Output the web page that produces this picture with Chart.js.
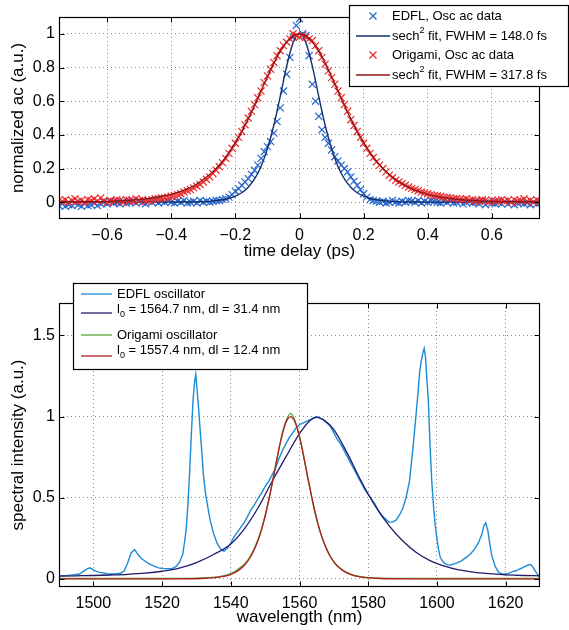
<!DOCTYPE html>
<html>
<head>
<meta charset="utf-8">
<title>EDFL vs Origami oscillator</title>
<script src="https://cdn.jsdelivr.net/npm/chart.js@4.4.1/dist/chart.umd.min.js"></script>
<style>
    body { margin: 0; background: #fff; }
    #wrap { position: relative; width: 569px; height: 630px; }
    canvas { position: absolute; left: 0; }
    #acChart { top: 0; }
    #specChart { top: 270px; }
</style>
</head>
<body>
<div id="wrap">
    <canvas id="acChart" width="569" height="270"></canvas>
    <canvas id="specChart" width="569" height="360"></canvas>
</div>
<script>
/* Autocorrelation data START */
var delay = [-0.75,-0.74,-0.73,-0.72,-0.71,-0.70,-0.69,-0.68,-0.67,-0.66,
    -0.65,-0.64,-0.63,-0.62,-0.61,-0.60,-0.59,-0.58,-0.57,-0.56,
    -0.55,-0.54,-0.53,-0.52,-0.51,-0.50,-0.49,-0.48,-0.47,-0.46,
    -0.45,-0.44,-0.43,-0.42,-0.41,-0.40,-0.39,-0.38,-0.37,-0.36,
    -0.35,-0.34,-0.33,-0.32,-0.31,-0.30,-0.29,-0.28,-0.27,-0.26,
    -0.25,-0.24,-0.23,-0.22,-0.21,-0.20,-0.19,-0.18,-0.17,-0.16,
    -0.15,-0.14,-0.13,-0.12,-0.11,-0.10,-0.09,-0.08,-0.07,-0.06,
    -0.05,-0.04,-0.03,-0.02,-0.01,0,0.01,0.02,0.03,0.04,
    0.05,0.06,0.07,0.08,0.09,0.10,0.11,0.12,0.13,0.14,
    0.15,0.16,0.17,0.18,0.19,0.20,0.21,0.22,0.23,0.24,
    0.25,0.26,0.27,0.28,0.29,0.30,0.31,0.32,0.33,0.34,
    0.35,0.36,0.37,0.38,0.39,0.40,0.41,0.42,0.43,0.44,
    0.45,0.46,0.47,0.48,0.49,0.50,0.51,0.52,0.53,0.54,
    0.55,0.56,0.57,0.58,0.59,0.60,0.61,0.62,0.63,0.64,
    0.65,0.66,0.67,0.68,0.69,0.70,0.71,0.72,0.73,0.74,
    0.75];
var edflAc = [-0.02,-0.01,-0.025,-0.015,-0.02,-0.005,-0.015,-0.025,-0.01,-0.02,
    -0.015,-0.005,-0.02,-0.01,0.0,-0.01,0.005,-0.005,0.0,-0.01,
    0.005,-0.005,0.0,0.01,-0.005,0.005,0.0,-0.01,0.005,0.0,
    0.01,-0.005,0.005,0.0,0.01,0.0,-0.005,0.005,0.0,0.01,
    -0.005,0.0,0.005,-0.005,0.01,0.0,0.005,0.0,0.005,0.01,
    0.01,0.015,0.02,0.03,0.045,0.065,0.08,0.1,0.12,0.14,
    0.165,0.19,0.22,0.26,0.3,0.33,0.36,0.41,0.48,0.56,
    0.66,0.76,0.86,0.98,1.05,1.09,1.0,0.99,0.87,0.7,
    0.6,0.51,0.43,0.385,0.35,0.31,0.27,0.245,0.22,0.2,
    0.18,0.15,0.125,0.1,0.075,0.05,0.03,0.015,0.01,0.005,
    0.0,0.005,-0.005,0.0,0.01,0.0,-0.005,0.005,0.0,0.01,
    0.005,0.0,0.01,-0.005,0.005,0.0,0.01,0.005,0.0,-0.005,
    0.005,0.0,0.01,-0.005,0.0,0.005,-0.01,0.0,0.005,-0.005,
    0.0,-0.01,0.005,-0.015,0.0,-0.005,-0.01,0.0,-0.01,0.005,
    -0.01,0.0,-0.015,-0.005,0.0,-0.01,-0.005,-0.015,0.0,-0.01,
    -0.005];
var origamiAc = [0.01,0.005,0.015,0.0,0.01,0.02,0.005,0.01,0.0,0.015,
    0.01,0.02,0.005,0.025,0.01,0.0,0.01,0.005,0.015,0.01,
    0.0,0.015,0.01,0.005,0.02,0.01,0.015,0.005,0.01,0.015,
    0.02,0.02,0.025,0.025,0.03,0.035,0.04,0.045,0.05,0.06,
    0.068,0.075,0.085,0.095,0.105,0.12,0.135,0.15,0.17,0.19,
    0.21,0.235,0.26,0.29,0.32,0.35,0.385,0.42,0.46,0.5,
    0.54,0.58,0.62,0.66,0.71,0.75,0.79,0.83,0.87,0.9,
    0.93,0.95,0.97,1.0,0.99,0.98,0.99,0.98,0.97,0.96,
    0.93,0.9,0.86,0.82,0.78,0.74,0.7,0.66,0.62,0.58,
    0.54,0.49,0.455,0.42,0.385,0.35,0.32,0.29,0.265,0.24,
    0.22,0.2,0.18,0.16,0.145,0.13,0.12,0.11,0.1,0.09,
    0.082,0.075,0.068,0.06,0.055,0.05,0.045,0.04,0.038,0.035,
    0.03,0.028,0.025,0.02,0.022,0.018,0.015,0.02,0.01,0.015,
    0.01,0.005,0.015,0.01,0.0,0.012,0.005,0.01,0.015,0.005,
    0.01,0.0,0.015,0.005,0.01,0.02,0.005,0.01,0.0,0.015,
    0.005];
var fitDelay = [-0.75,-0.7,-0.65,-0.6,-0.55,-0.5,-0.45,-0.4,-0.36,-0.32,-0.28,-0.26,-0.24,
    -0.22,-0.2,-0.18,-0.16,-0.14,-0.12,-0.1,-0.08,-0.06,-0.04,-0.02,0,
    0.02,0.04,0.06,0.08,0.1,0.12,0.14,0.16,0.18,0.2,0.22,0.24,0.26,0.28,
    0.32,0.36,0.4,0.45,0.5,0.55,0.6,0.65,0.7,0.75];
var edflAcFit = [0,0,0,0,0,0,0,0,0.001,0.002,0.005,0.009,0.014,
    0.022,0.036,0.056,0.089,0.138,0.212,0.318,0.457,0.629,0.808,0.947,1,
    0.947,0.808,0.629,0.457,0.318,0.212,0.138,0.089,0.056,0.036,0.022,0.014,0.009,0.005,
    0.002,0.001,0,0,0,0,0,0,0,0];
var origamiAcFit = [0.001,0.002,0.003,0.005,0.009,0.015,0.027,0.046,0.071,0.108,0.164,0.2,0.243,
    0.294,0.353,0.42,0.495,0.576,0.66,0.745,0.826,0.897,0.952,0.988,1,
    0.988,0.952,0.897,0.826,0.745,0.66,0.576,0.495,0.42,0.353,0.294,0.243,0.2,0.164,
    0.108,0.071,0.046,0.027,0.015,0.009,0.005,0.003,0.002,0.001];
var delayTicks = [-0.6, -0.4, -0.2, 0, 0.2, 0.4, 0.6];
var acTicks = [0, 0.2, 0.4, 0.6, 0.8, 1];
/* Autocorrelation data END */

/* Spectrum data START */
var edflLambda = [1490,1492,1494,1496,1497,1498,1499,1500,1501,1502,
    1504,1506,1508,1509,1510,1511,1512,1513,1514,1515,
    1516,1517,1518,1519,1520,1521,1522,1523,1524,1525,
    1526,1526.5,1527,1527.5,1528,1528.5,1529,1529.5,1529.8,1530.2,
    1530.6,1531,1531.5,1532,1532.5,1533,1534,1535,1536,1537,
    1538,1539,1540,1541,1542,1543,1544,1545,1546,1547,
    1548,1549,1550,1551,1552,1553,1554,1555,1556,1557,
    1558,1559,1560,1561,1562,1563,1564,1565,1566,1567,
    1568,1569,1570,1571,1572,1573,1574,1575,1576,1577,
    1578,1579,1580,1581,1582,1583,1584,1585,1586,1587,
    1588,1589,1590,1591,1592,1593,1594,1594.5,1595,1595.5,
    1596,1596.3,1596.7,1597,1597.5,1598,1598.5,1599,1599.5,1600,
    1600.5,1601,1602,1603,1604,1605,1606,1607,1608,1609,
    1610,1611,1612,1613,1613.7,1614.2,1614.8,1615.5,1616,1617,
    1618,1619,1620,1621,1622,1623,1624,1625,1626,1627,
    1627.5,1628,1629,1630];
var edflSpectrum = [0.02,0.02,0.025,0.03,0.045,0.06,0.068,0.055,0.045,0.04,
    0.032,0.03,0.035,0.05,0.1,0.16,0.18,0.15,0.125,0.11,
    0.095,0.085,0.075,0.068,0.065,0.063,0.062,0.065,0.075,0.1,
    0.15,0.22,0.3,0.45,0.65,0.88,1.1,1.22,1.26,1.16,
    1.06,0.94,0.8,0.65,0.55,0.48,0.36,0.28,0.22,0.185,
    0.17,0.19,0.22,0.26,0.29,0.32,0.35,0.39,0.43,0.46,
    0.5,0.53,0.57,0.6,0.64,0.68,0.74,0.79,0.83,0.87,
    0.9,0.93,0.95,0.96,0.97,0.98,0.99,1.0,0.99,0.98,
    0.96,0.94,0.9,0.86,0.83,0.79,0.75,0.71,0.67,0.63,
    0.59,0.55,0.52,0.49,0.46,0.42,0.39,0.37,0.35,0.35,
    0.36,0.39,0.43,0.5,0.6,0.8,1.03,1.15,1.28,1.35,
    1.4,1.42,1.36,1.25,1.1,0.82,0.6,0.45,0.33,0.25,
    0.18,0.13,0.1,0.088,0.086,0.092,0.1,0.11,0.125,0.14,
    0.16,0.185,0.22,0.27,0.33,0.345,0.3,0.2,0.14,0.075,
    0.04,0.03,0.03,0.035,0.045,0.05,0.06,0.07,0.08,0.088,
    0.085,0.07,0.035,0.01];
var edflFitLambda = [1490,1495,1500,1505,1510,1515,1520,1525,1530,1535,
    1540,1544,1548,1552,1556,1560,1563,1565,1567,1570,
    1574,1578,1582,1586,1590,1594,1598,1602,1606,1610,
    1615,1620,1625,1630];
var edflSpectrumFit = [0.017,0.019,0.021,0.024,0.028,0.035,0.047,0.066,0.1,0.15,
    0.215,0.31,0.44,0.6,0.75,0.895,0.975,0.995,0.98,0.92,
    0.77,0.6,0.45,0.33,0.235,0.163,0.113,0.08,0.057,0.043,
    0.032,0.025,0.021,0.019];
var origamiLambda = [1490,1517.4,1527.4,1531.4,1534.4,1537.4,1539.4,1541.4,1543.4,1544.4,
    1545.4,1546.4,1547.4,1548.4,1549.4,1550.4,1551.4,1552.4,1553.4,1554.4,
    1555.4,1556.4,1557.4,1558.4,1559.4,1560.4,1561.4,1562.4,1563.4,1564.4,
    1565.4,1566.4,1567.4,1568.4,1569.4,1570.4,1571.4,1573.4,1575.4,1577.4,
    1580.4,1583.4,1587.4,1597.4,1630];
var origamiSpectrum = [0.002,0.002,0.003,0.005,0.009,0.017,0.028,0.048,0.08,0.1,
    0.13,0.168,0.215,0.27,0.34,0.425,0.52,0.625,0.735,0.84,
    0.93,0.99,1.02,0.99,0.925,0.84,0.735,0.625,0.52,0.42,
    0.335,0.265,0.208,0.16,0.124,0.095,0.073,0.043,0.025,0.015,
    0.007,0.004,0.003,0.002,0.002];
var origamiSpectrumFit = [0,0.0001,0.0008,0.0024,0.0057,0.0134,0.0237,0.0413,0.072,0.094,
    0.124,0.161,0.209,0.266,0.337,0.423,0.52,0.626,0.735,0.838,
    0.923,0.98,1,0.98,0.923,0.838,0.735,0.626,0.52,0.423,
    0.337,0.266,0.209,0.161,0.124,0.094,0.072,0.0413,0.0237,0.0134,
    0.0057,0.0024,0.0008,0.0001,0];
var lambdaTicks = [1500, 1520, 1540, 1560, 1580, 1600, 1620];
var intensityTicks = [0, 0.5, 1, 1.5];
/* Spectrum data END */

var FONT = '"Liberation Sans", Arial, Helvetica, sans-serif';
Chart.defaults.font.family = FONT;
Chart.defaults.color = '#000';

function toPoints(xs, ys) {
    return xs.map((x, i) => ({x: x, y: ys[i]}));
}

function fmt(v) {
    return v < 0 ? '\u2212' + Math.abs(v) : String(v);
}

function xAxis(min, max, ticks, title, height, titlePad) {
    return {
        type: 'linear', position: 'bottom', min: min, max: max,
        afterBuildTicks: s => { s.ticks = ticks.map(v => ({value: v})); },
        afterFit: s => { s.height = height; },
        grid: {color: '#8a8a8a', lineWidth: 1, drawTicks: false},
        border: {display: false, dash: [1, 3]},
        ticks: {callback: fmt, font: {size: 16}, padding: 7, autoSkip: false, maxRotation: 0},
        title: {display: true, text: title, font: {size: 17}, padding: {top: 0, bottom: titlePad}}
    };
}

function yAxis(min, max, ticks, title) {
    return {
        type: 'linear', min: min, max: max,
        afterBuildTicks: s => { s.ticks = ticks.map(v => ({value: v})); },
        afterFit: s => { s.width = 59; },
        grid: {color: '#8a8a8a', lineWidth: 1, drawTicks: false},
        border: {display: false, dash: [1, 3]},
        ticks: {callback: fmt, font: {size: 16}, padding: 4, autoSkip: false},
        title: {display: true, text: title, font: {size: 17}, padding: {top: 8, bottom: 0}}
    };
}

// black box round the axes with small inward ticks, like matlab
var matlabFrame = {
    id: 'matlabFrame',
    afterDatasetsDraw(chart) {
        const ctx = chart.ctx, a = chart.chartArea, sx = chart.scales.x, sy = chart.scales.y;
        const L = Math.round(a.left) + 0.5, R = Math.round(a.right) - 0.5;
        const T = Math.round(a.top) + 0.5, B = Math.round(a.bottom) - 0.5;
        ctx.save();
        ctx.strokeStyle = '#000';
        ctx.lineWidth = 1;
        ctx.beginPath();
        sx.ticks.forEach(t => {
            const p = Math.round(sx.getPixelForValue(t.value)) + 0.5;
            ctx.moveTo(p, B); ctx.lineTo(p, B - 5);
            ctx.moveTo(p, T); ctx.lineTo(p, T + 5);
        });
        sy.ticks.forEach(t => {
            const p = Math.round(sy.getPixelForValue(t.value)) + 0.5;
            ctx.moveTo(L, p); ctx.lineTo(L + 5, p);
            ctx.moveTo(R, p); ctx.lineTo(R - 5, p);
        });
        ctx.stroke();
        ctx.lineWidth = 1.2;
        ctx.strokeRect(L, T, R - L, B - T);
        ctx.restore();
    }
};

function drawRich(ctx, parts, x, y) {
    parts.forEach(p => {
        const small = p[1] !== 0;
        ctx.font = (small ? 9 : 13) + 'px ' + FONT;
        const dy = p[1] === -1 ? -5 : (p[1] === 1 ? 6 : 0);
        ctx.fillText(p[0], x, y + dy);
        x += ctx.measureText(p[0]).width;
    });
}

var boxLegend = {
    id: 'boxLegend',
    afterDraw(chart, args, opts) {
        const ctx = chart.ctx, b = opts.box;
        ctx.save();
        ctx.fillStyle = '#fff';
        ctx.fillRect(b.left, b.top, b.width, b.height);
        ctx.strokeStyle = '#000';
        ctx.lineWidth = 1.2;
        ctx.strokeRect(b.left + 0.5, b.top + 0.5, b.width, b.height);
        opts.items.forEach(it => {
            const ds = chart.data.datasets[it.dataset];
            ctx.strokeStyle = ds.borderColor;
            ctx.lineWidth = 1.3;
            ctx.beginPath();
            if (it.marker) {
                const cx = (opts.lineFrom + opts.lineTo) / 2, r = 3.5;
                ctx.moveTo(cx - r, it.sampleY - r); ctx.lineTo(cx + r, it.sampleY + r);
                ctx.moveTo(cx - r, it.sampleY + r); ctx.lineTo(cx + r, it.sampleY - r);
            } else {
                ctx.moveTo(opts.lineFrom, it.sampleY); ctx.lineTo(opts.lineTo, it.sampleY);
            }
            ctx.stroke();
            ctx.fillStyle = '#000';
            ctx.textBaseline = 'middle';
            ctx.textAlign = 'left';
            drawRich(ctx, it.text, opts.textX, it.textY);
        });
        ctx.restore();
    }
};

function init() {
    createAcChart();
    createSpectrumChart();
}

function createAcChart() {
    new Chart('acChart', {
        type: 'scatter',
        data: {
            datasets: [{
                label: 'EDFL, Osc ac data',
                data: toPoints(delay, edflAc),
                showLine: false, pointStyle: 'crossRot', pointRadius: 5,
                pointBorderWidth: 1.2, borderColor: '#2566cf', order: 4
            }, {
                label: 'EDFL sech2 fit',
                data: toPoints(fitDelay, edflAcFit),
                showLine: true, pointRadius: 0, borderWidth: 1.4,
                borderColor: '#12306a', cubicInterpolationMode: 'monotone', order: 3
            }, {
                label: 'Origami, Osc ac data',
                data: toPoints(delay, origamiAc),
                showLine: false, pointStyle: 'crossRot', pointRadius: 5,
                pointBorderWidth: 1.2, borderColor: '#ec2a2c', order: 2
            }, {
                label: 'Origami sech2 fit',
                data: toPoints(fitDelay, origamiAcFit),
                showLine: true, pointRadius: 0, borderWidth: 1.4,
                borderColor: '#8e1416', cubicInterpolationMode: 'monotone', order: 1
            }]
        },
        options: {
            responsive: false, animation: false, events: [], devicePixelRatio: 1,
            layout: {padding: {left: 0, top: 17, right: 29, bottom: 0}},
            scales: {
                x: xAxis(-0.75, 0.75, delayTicks, 'time delay (ps)', 51, 8),
                y: yAxis(-0.1, 1.1, acTicks, 'normalized ac (a.u.)')
            },
            plugins: {
                legend: {display: false},
                tooltip: {enabled: false},
                boxLegend: {
                    box: {left: 349, top: 5, width: 219, height: 81},
                    lineFrom: 356, lineTo: 390, textX: 392,
                    items: [
                        {dataset: 0, marker: true, sampleY: 16, textY: 16, text: [['EDFL, Osc ac data', 0]]},
                        {dataset: 1, sampleY: 36, textY: 36, text: [['sech', 0], ['2', -1], [' fit, FWHM = 148.0 fs', 0]]},
                        {dataset: 2, marker: true, sampleY: 55, textY: 55, text: [['Origami, Osc ac data', 0]]},
                        {dataset: 3, sampleY: 75, textY: 75, text: [['sech', 0], ['2', -1], [' fit, FWHM = 317.8 fs', 0]]}
                    ]
                }
            }
        },
        plugins: [matlabFrame, boxLegend]
    });
}

function createSpectrumChart() {
    new Chart('specChart', {
        type: 'scatter',
        data: {
            datasets: [{
                label: 'EDFL oscillator',
                data: toPoints(edflLambda, edflSpectrum),
                showLine: true, pointRadius: 0, borderWidth: 1.4,
                borderColor: '#1a8cd6', order: 4
            }, {
                label: 'EDFL fit',
                data: toPoints(edflFitLambda, edflSpectrumFit),
                showLine: true, pointRadius: 0, borderWidth: 1.3,
                borderColor: '#221a6a', cubicInterpolationMode: 'monotone', order: 3
            }, {
                label: 'Origami oscillator',
                data: toPoints(origamiLambda, origamiSpectrum),
                showLine: true, pointRadius: 0, borderWidth: 1.4,
                borderColor: '#5da838', cubicInterpolationMode: 'monotone', order: 2
            }, {
                label: 'Origami fit',
                data: toPoints(origamiLambda, origamiSpectrumFit),
                showLine: true, pointRadius: 0, borderWidth: 1.3,
                borderColor: '#ae1f1f', cubicInterpolationMode: 'monotone', order: 1
            }]
        },
        options: {
            responsive: false, animation: false, events: [], devicePixelRatio: 1,
            layout: {padding: {left: 0, top: 33, right: 29, bottom: 0}},
            scales: {
                x: xAxis(1490, 1630, lambdaTicks, 'wavelength (nm)', 43, 2),
                y: yAxis(-0.05, 1.7, intensityTicks, 'spectral intensity (a.u.)')
            },
            plugins: {
                legend: {display: false},
                tooltip: {enabled: false},
                boxLegend: {
                    box: {left: 73, top: 13, width: 234, height: 86},
                    lineFrom: 81, lineTo: 112, textX: 117,
                    items: [
                        {dataset: 0, sampleY: 24, textY: 24, text: [['EDFL oscillator', 0]]},
                        {dataset: 1, sampleY: 43, textY: 39, text: [['l', 0], ['0', 1], [' = 1564.7 nm, dl = 31.4 nm', 0]]},
                        {dataset: 2, sampleY: 65, textY: 65, text: [['Origami oscillator', 0]]},
                        {dataset: 3, sampleY: 86, textY: 80, text: [['l', 0], ['0', 1], [' = 1557.4 nm, dl = 12.4 nm', 0]]}
                    ]
                }
            }
        },
        plugins: [matlabFrame, boxLegend]
    });
}

init();
</script>
</body>
</html>
